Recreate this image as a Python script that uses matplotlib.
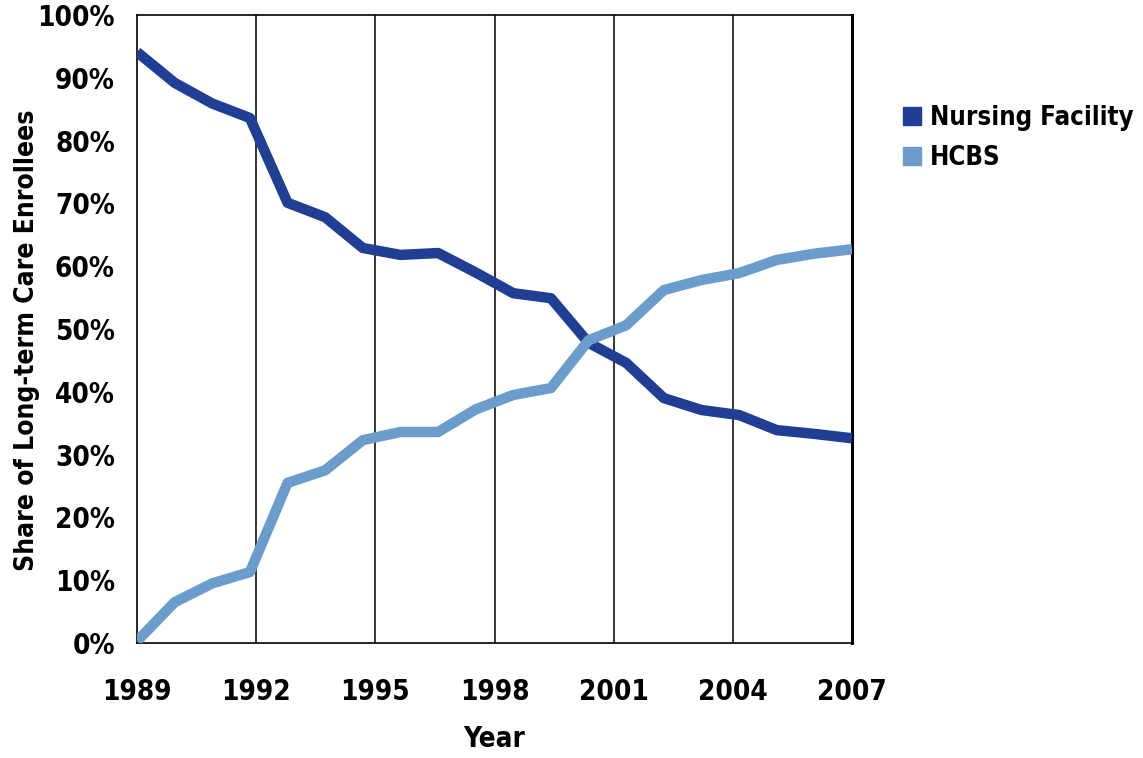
import numpy as np
import matplotlib
matplotlib.use('Agg')
import matplotlib.pyplot as plt
from matplotlib.lines import Line2D

plt.rcParams['font.family'] = ['DejaVu Sans']
plt.rcParams['font.stretch'] = 'condensed'
plt.rcParams['font.weight'] = 'bold'

# 20 observations spread evenly between 1989 and 2007
nursing_facility = [94.1, 89.2, 85.9, 83.6, 70.1, 67.8, 62.9, 61.8, 62.1, 59.0,
                    55.7, 54.9, 47.8, 44.6, 39.0, 37.1, 36.3, 33.9, 33.3, 32.6]
hcbs = [0.3, 6.5, 9.5, 11.3, 25.5, 27.5, 32.3, 33.6, 33.6, 37.2,
        39.5, 40.6, 48.2, 50.6, 56.2, 57.8, 58.9, 61.0, 62.0, 62.7]
year_ticks = [1989, 1992, 1995, 1998, 2001, 2004, 2007]
y_ticks = [0, 10, 20, 30, 40, 50, 60, 70, 80, 90, 100]

nf_color = '#1f3e94'
hcbs_color = '#6a9dcb'

years = np.linspace(year_ticks[0], year_ticks[-1], len(nursing_facility))

fig = plt.figure(figsize=(11.43, 7.58), dpi=100)
ax = fig.add_axes([0.1199, 0.1517, 0.6255, 0.8285])

for yr in year_ticks[1:-1]:
    ax.axvline(yr, color='black', lw=1.1, zorder=1)

ax.plot(years, nursing_facility, color=nf_color, lw=7.5, solid_capstyle='butt', zorder=3)
ax.plot(years, hcbs, color=hcbs_color, lw=7.5, solid_capstyle='butt', zorder=3)

ax.set_xlim(year_ticks[0], year_ticks[-1])
ax.set_ylim(0, 100)
ax.set_xticks(year_ticks)
ax.set_xticklabels([str(y) for y in year_ticks])
ax.set_yticks(y_ticks)
ax.set_yticklabels(['%d%%' % v for v in y_ticks])
ax.tick_params(axis='both', length=0, labelsize=20)
ax.tick_params(axis='x', pad=25)
ax.tick_params(axis='y', pad=16)

for side in ['left', 'bottom', 'top']:
    ax.spines[side].set_linewidth(1.2)
ax.spines['right'].set_linewidth(2.2)

ax.set_xlabel('Year', fontsize=20, fontweight='bold', labelpad=14)
ax.set_ylabel('Share of Long-term Care Enrollees', fontsize=19,
              fontweight='bold')
ax.yaxis.set_label_coords(-0.136, 0.482)

handles = [Line2D([], [], marker='s', linestyle='none', markersize=13,
                  markerfacecolor=nf_color, markeredgecolor=nf_color),
           Line2D([], [], marker='s', linestyle='none', markersize=13,
                  markerfacecolor=hcbs_color, markeredgecolor=hcbs_color)]
fig.legend(handles, ['Nursing Facility', 'HCBS'], loc='upper left',
           bbox_to_anchor=(0.78, 0.875), frameon=False, fontsize=18.5,
           handletextpad=0.3, labelspacing=0.55, handlelength=0.8,
           borderaxespad=0)

fig.savefig('out.png', dpi=100)
